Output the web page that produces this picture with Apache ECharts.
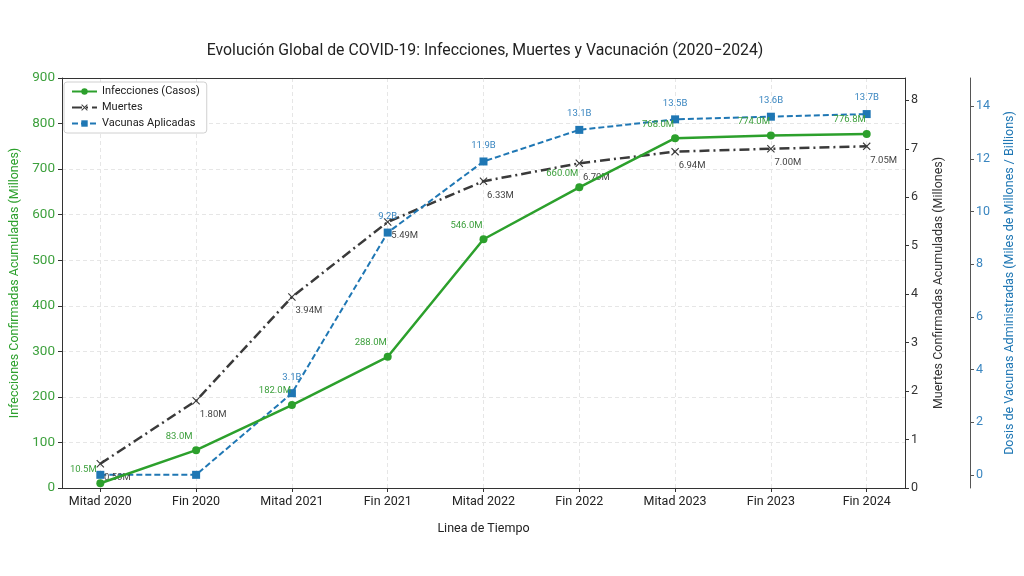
<!DOCTYPE html>
<html>
<head>
<meta charset="utf-8">
<script src="https://cdn.jsdelivr.net/npm/echarts@6/dist/echarts.min.js"></script>
<style>
  html, body { margin: 0; padding: 0; background: #fff; }
  #chart { width: 1024px; height: 576px; }
</style>
</head>
<body>
<div id="chart"></div>
<script>
/* COVID-19 global: infecciones, muertes, vacunas - three y axes */
const periodos = ['Mitad 2020', 'Fin 2020', 'Mitad 2021', 'Fin 2021', 'Mitad 2022', 'Fin 2022', 'Mitad 2023', 'Fin 2023', 'Fin 2024'];
const infecciones = [10.5, 83.0, 182.0, 288.0, 546.0, 660.0, 768.0, 774.0, 776.8];
const muertes = [0.50, 1.80, 3.94, 5.49, 6.33, 6.70, 6.94, 7.00, 7.05];
const vacunas = [0.0, 0.0, 3.1, 9.2, 11.9, 13.1, 13.5, 13.6, 13.7];
const ticksMuertes = [0, 1, 2, 3, 4, 5, 6, 7, 8];
const ticksVacunas = [0, 2, 4, 6, 8, 10, 12, 14];

const GREEN = '#2ca02c', DARK = '#3a3a3a', BLUE = '#1f77b4';
const FONT = 'Roboto, "Open Sans", sans-serif';
const XMARK = 'path://M1,0L5,4L9,0L10,1L6,5L10,9L9,10L5,6L1,10L0,9L4,5L0,1Z';
const idx = periodos.map((_, i) => i);
const pts = (arr) => arr.map((v, i) => [i, v]);

const chart = echarts.init(document.getElementById('chart'));

chart.setOption({
  textStyle: { fontFamily: FONT },
  title: {
    text: 'Evolución Global de COVID-19: Infecciones, Muertes y Vacunación (2020\u22122024)',
    left: 480, top: 38, textAlign: 'center',
    textStyle: { fontSize: 15.8, fontWeight: 'normal', color: '#222', fontFamily: FONT }
  },
  grid: { left: 62, right: 116, top: 78, bottom: 88, containLabel: false },
  legend: {
    left: 64, top: 82, orient: 'vertical', itemWidth: 25, itemHeight: 8, itemGap: 5,
    padding: [4, 7, 4, 7],
    backgroundColor: '#fff', borderColor: '#d0d0d0', borderWidth: 1, borderRadius: 3,
    textStyle: { fontSize: 11, color: '#222', fontFamily: FONT },
    data: ['Infecciones (Casos)', 'Muertes', 'Vacunas Aplicadas']
  },
  xAxis: [
    {
      type: 'value', min: -0.4, max: 8.4,
      name: 'Linea de Tiempo', nameLocation: 'middle', nameGap: 34,
      nameTextStyle: { fontSize: 12.5, color: '#222' },
      axisLine: { onZero: false, lineStyle: { color: '#333' } },
      axisTick: { customValues: idx, length: 4, lineStyle: { color: '#333' } },
      axisLabel: { customValues: idx, formatter: (v) => periodos[Math.round(v)], fontSize: 12.5, color: '#222', margin: 7 },
      splitLine: { show: true, lineStyle: { color: '#e6e6e6', type: [4, 3] } }
    },
    {
      // top frame line
      type: 'value', min: -0.4, max: 8.4, position: 'top',
      axisLine: { show: true, onZero: false, lineStyle: { color: '#333' } },
      axisTick: { show: false }, axisLabel: { show: false }, splitLine: { show: false }
    }
  ],
  yAxis: [
    {
      type: 'value', min: 0, max: 900, interval: 100, position: 'left',
      name: 'Infecciones Confirmadas Acumuladas (Millones)', nameLocation: 'middle', nameGap: 35,
      nameTextStyle: { fontSize: 12.5, color: GREEN },
      axisLine: { show: true, onZero: false, lineStyle: { color: '#333' } },
      axisTick: { show: true, length: 4, lineStyle: { color: '#333' } },
      axisLabel: { fontSize: 13.5, color: '#3da03d', margin: 7 },
      splitLine: { show: true, lineStyle: { color: '#e6e6e6', type: [4, 3] } }
    },
    {
      type: 'value', min: 0, max: 8.46, position: 'right',
      name: 'Muertes Confirmadas Acumuladas (Millones)', nameLocation: 'middle', nameGap: 27,
      nameTextStyle: { fontSize: 12.5, color: '#333' },
      axisLine: { show: true, onZero: false, lineStyle: { color: '#333' } },
      axisTick: { show: true, customValues: ticksMuertes, length: 4, lineStyle: { color: '#333' } },
      axisLabel: { customValues: ticksMuertes, fontSize: 12.5, color: '#333', margin: 6 },
      splitLine: { show: false }
    },
    {
      type: 'value', min: -0.5, max: 15.07, position: 'right', offset: 65,
      name: 'Dosis de Vacunas Administradas (Miles de Millones / Billions)', nameLocation: 'middle', nameGap: 33,
      nameTextStyle: { fontSize: 12.5, color: BLUE },
      axisLine: { show: true, onZero: false, lineStyle: { color: '#555' } },
      axisTick: { show: true, customValues: ticksVacunas, length: 4, lineStyle: { color: '#555' } },
      axisLabel: { customValues: ticksVacunas, fontSize: 12.5, color: '#3a86c0', margin: 6 },
      splitLine: { show: false }
    }
  ],
  series: [
    {
      name: 'Infecciones (Casos)', type: 'line', yAxisIndex: 0, data: pts(infecciones),
      symbol: 'circle', symbolSize: 8, color: GREEN,
      lineStyle: { width: 2.5, color: GREEN }, itemStyle: { color: GREEN },
      label: { show: true, position: 'inside', offset: [-17, -14], fontSize: 9.5, color: '#3da03d',
        formatter: (p) => p.value[1].toFixed(1) + 'M' },
      z: 3
    },
    {
      name: 'Muertes', type: 'line', yAxisIndex: 1, data: pts(muertes),
      symbol: XMARK, symbolSize: 8, color: DARK,
      lineStyle: { width: 2.5, color: DARK, type: [10, 4, 2, 4] }, itemStyle: { color: DARK },
      label: { show: true, position: 'inside', offset: [17, 14], fontSize: 9.5, color: '#444',
        formatter: (p) => p.value[1].toFixed(2) + 'M' },
      z: 2
    },
    {
      name: 'Vacunas Aplicadas', type: 'line', yAxisIndex: 2, data: pts(vacunas),
      symbol: 'rect', symbolSize: 8, color: BLUE,
      lineStyle: { width: 2, color: BLUE, type: [6, 3] }, itemStyle: { color: BLUE },
      label: { show: true, position: 'inside', offset: [0, -16], fontSize: 9.5, color: '#3a86c0',
        formatter: (p) => (p.value[1] > 0 ? p.value[1].toFixed(1) + 'B' : '') },
      z: 2
    }
  ]
});
</script>
</body>
</html>
